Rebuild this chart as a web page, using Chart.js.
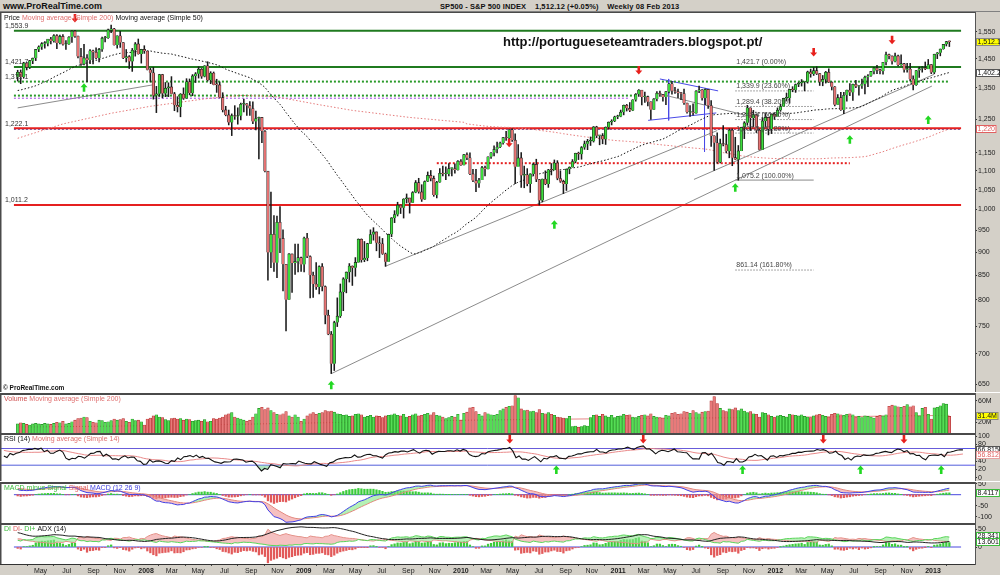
<!DOCTYPE html>
<html>
<head>
<meta charset="utf-8">
<script src="https://cdn.jsdelivr.net/npm/chart.js@4.4.0/dist/chart.umd.min.js"></script>
<style>
  body { margin: 0; width: 1000px; height: 575px; overflow: hidden; background: #fff; position: relative; }
  .pane { position: absolute; left: 0; width: 1000px; }
  #titlebar { position: absolute; left: 0; top: 0; width: 1000px; height: 12px; background: #d4d0c8;
    border-bottom: 1px solid #808080; box-sizing: border-box; font: bold 8px "Liberation Sans", Arial, sans-serif; color: #111; }
  #titlebar .site { position: absolute; left: 3px; top: 1px; font-size: 9px; }
  #titlebar .name { position: absolute; left: 440px; top: 2px; font-size: 7.5px; letter-spacing: 0.1px; }
</style>
</head>
<body>
<div id="titlebar"><span class="site">www.ProRealTime.com</span><span class="name">SP500 - S&amp;P 500 INDEX &nbsp;&nbsp; 1,512.12 (+0.05%) &nbsp;&nbsp; Weekly 08 Feb 2013</span></div>
<div class="pane" style="top:12px;height:380px"><canvas id="cPrice"></canvas></div>
<div class="pane" style="top:393px;height:40px"><canvas id="cVol"></canvas></div>
<div class="pane" style="top:433px;height:48px"><canvas id="cRsi"></canvas></div>
<div class="pane" style="top:482px;height:41px"><canvas id="cMacd"></canvas></div>
<div class="pane" style="top:523px;height:52px"><canvas id="cAdx"></canvas></div>
<script>
// weekly bars, first bar = week ending 9 Mar 2007, last = 8 Feb 2013
var firstDay = -298;          // days from 1 Jan 2008
var openBefore = 1387.2;      // close of the week before the first bar

var closes = [
1402.8,1386.9,1436.1,1420.9,1443.8,1452.9,1484.4,1494.1,1505.6,1505.9,
1522.8,1515.7,1536.3,1507.7,1532.9,1502.6,1503.4,1530.4,1552.5,1534.1,
1458.9,1433.1,1453.6,1445.9,1479.4,1473.9,1453.6,1484.3,1525.8,1527.0,
1557.6,1561.8,1500.6,1535.3,1509.7,1453.7,1458.7,1440.7,1481.1,1504.7,
1467.9,1484.5,1478.5,1411.6,1401.0,1325.2,1330.6,1395.4,1331.3,1349.0,
1353.1,1330.6,1293.4,1288.1,1329.5,1315.2,1370.4,1332.8,1390.3,1397.8,
1413.9,1388.3,1425.4,1375.9,1400.4,1360.7,1360.0,1317.9,1278.4,1262.9,
1239.5,1260.7,1257.8,1260.3,1296.3,1298.2,1292.2,1282.8,1242.3,1251.7,
1255.1,1213.3,1099.2,899.2,940.6,876.8,968.8,931.0,873.3,800.0,
896.2,876.1,879.7,887.9,872.8,931.8,890.4,850.1,831.9,825.9,
868.6,826.8,770.1,735.1,683.4,756.6,768.5,815.9,842.5,856.6,
869.6,866.2,877.5,929.2,882.9,887.0,919.1,940.1,946.2,921.2,
918.9,896.4,879.1,940.4,979.3,987.5,1010.5,1004.1,1026.1,1028.9,
1016.4,1042.7,1068.3,1044.4,1025.2,1071.5,1087.7,1079.6,1036.2,1069.3,
1093.5,1091.4,1091.5,1106.0,1106.4,1102.5,1126.5,1115.1,1145.0,1136.0,
1091.8,1073.9,1066.2,1075.5,1109.2,1104.5,1138.7,1150.0,1159.9,1166.6,
1178.1,1194.4,1192.1,1217.3,1186.7,1110.9,1135.7,1087.7,1089.4,1064.9,
1091.6,1117.5,1076.8,1022.6,1078.0,1064.9,1102.7,1101.6,1121.6,1079.3,
1071.7,1064.6,1104.5,1109.6,1125.6,1148.7,1146.2,1165.2,1176.2,1183.1,
1183.3,1225.9,1199.2,1199.7,1189.4,1224.7,1240.4,1243.9,1256.8,1257.6,
1271.5,1293.2,1283.4,1276.3,1310.9,1329.2,1343.0,1319.9,1321.2,1304.3,
1279.2,1313.8,1332.4,1328.2,1319.7,1337.4,1363.6,1340.2,1337.8,1333.3,
1331.1,1300.2,1271.0,1271.5,1268.5,1339.7,1343.8,1316.1,1345.0,1292.3,
1199.4,1178.8,1123.5,1176.8,1174.0,1154.2,1216.0,1136.4,1131.4,1155.5,
1224.6,1238.3,1285.1,1253.2,1263.9,1215.7,1158.7,1244.3,1255.2,1219.7,
1265.3,1257.6,1277.8,1289.1,1315.4,1316.3,1344.9,1342.6,1361.2,1365.7,
1369.6,1370.9,1404.2,1397.1,1408.5,1398.1,1370.3,1378.5,1403.4,1369.1,
1353.4,1295.2,1317.8,1278.0,1325.7,1342.8,1335.0,1362.2,1354.7,1356.8,
1362.7,1386.0,1391.0,1405.9,1418.2,1411.1,1406.6,1437.9,1465.8,1460.2,
1440.7,1460.9,1428.6,1433.2,1411.9,1414.2,1379.9,1359.9,1409.2,1416.2,
1418.1,1413.6,1430.2,1402.4,1466.5,1472.1,1486.0,1503.0,1513.2,1512.12
];

var highs = [
1410,1411,1438,1437,1445,1453,1484,1498,1510,1513,
1522,1529,1540,1540,1538,1540,1517,1532,1555,1556,
1534,1488,1503,1466,1484,1482,1490,1488,1530,1533,
1561,1576,1564,1535,1552,1510,1484,1462,1488,1510,
1523,1485,1498,1478,1417,1420,1355,1396,1396,1368,
1367,1388,1335,1321,1331,1350,1381,1380,1395,1402,
1422,1416,1426,1440,1405,1404,1379,1370,1334,1290,
1278,1266,1292,1285,1300,1313,1299,1305,1304,1275,
1256,1255,1215,1097,1044,985,984,1007,951,873,
897,896,918,918,889,934,943,892,857,877,
870,875,828,780,740,759,804,832,845,857,
875,870,888,930,930,924,920,951,956,946,
935,931,898,941,980,997,1018,1011,1027,1039,
1028,1045,1074,1080,1063,1073,1097,1101,1086,1072,
1106,1113,1111,1120,1107,1119,1128,1131,1146,1150,
1150,1104,1104,1080,1112,1113,1139,1151,1170,1181,
1181,1195,1213,1218,1220,1205,1174,1151,1113,1106,
1092,1121,1132,1077,1078,1100,1104,1120,1130,1128,
1100,1075,1105,1111,1131,1149,1152,1168,1184,1189,
1196,1227,1228,1200,1206,1226,1241,1248,1259,1262,
1278,1294,1296,1302,1311,1331,1344,1341,1336,1323,
1304,1315,1338,1339,1329,1338,1364,1371,1352,1346,
1334,1346,1300,1292,1298,1341,1356,1344,1347,1345,
1308,1199,1208,1190,1230,1204,1220,1220,1195,1171,
1225,1242,1293,1285,1277,1266,1219,1255,1267,1255,
1266,1270,1285,1297,1316,1333,1345,1354,1363,1368,
1378,1372,1407,1414,1419,1422,1398,1392,1406,1415,
1370,1354,1328,1335,1335,1343,1364,1363,1375,1357,
1380,1390,1395,1406,1419,1427,1414,1438,1475,1467,
1461,1471,1464,1465,1434,1434,1434,1391,1409,1421,
1423,1439,1448,1430,1467,1473,1486,1503,1514,1515
];

var lows = [
1373,1364,1383,1411,1416,1433,1444,1476,1484,1489,
1497,1505,1511,1487,1505,1500,1484,1503,1510,1529,
1454,1427,1429,1371,1433,1432,1450,1439,1477,1512,
1525,1547,1500,1489,1492,1451,1439,1416,1406,1460,
1467,1435,1470,1411,1370,1313,1270,1322,1317,1321,
1321,1330,1276,1272,1257,1312,1315,1327,1324,1368,
1383,1382,1387,1373,1364,1360,1335,1317,1272,1260,
1232,1200,1249,1234,1247,1272,1261,1261,1236,1217,
1133,1179,1097,840,866,858,845,899,818,741,
801,815,852,857,858,857,888,804,805,821,
812,818,754,734,667,672,749,766,779,814,
836,829,848,878,878,879,881,919,927,903,
888,895,869,880,935,968,984,990,979,1016,
991,1017,1042,1041,1020,1025,1071,1073,1033,1029,
1069,1086,1076,1086,1086,1094,1102,1115,1116,1131,
1090,1071,1045,1056,1076,1086,1105,1134,1141,1150,
1165,1175,1186,1180,1183,1066,1126,1056,1055,1060,
1043,1087,1071,1011,1019,1063,1056,1089,1104,1076,
1069,1040,1048,1092,1110,1122,1131,1132,1160,1159,
1171,1181,1194,1173,1176,1174,1219,1232,1242,1251,
1257,1263,1275,1273,1276,1306,1322,1294,1302,1291,
1249,1279,1307,1322,1306,1295,1333,1329,1332,1318,
1311,1296,1268,1258,1262,1268,1334,1310,1295,1283,
1168,1101,1121,1122,1170,1150,1136,1114,1131,1075,
1156,1191,1231,1215,1226,1209,1158,1159,1226,1202,
1206,1249,1259,1274,1290,1307,1300,1337,1335,1354,
1356,1340,1366,1386,1392,1395,1358,1357,1366,1368,
1343,1291,1296,1277,1267,1306,1324,1309,1351,1326,
1348,1330,1354,1389,1397,1398,1397,1396,1429,1450,
1431,1439,1425,1427,1403,1403,1373,1343,1358,1385,
1403,1412,1416,1398,1398,1451,1461,1485,1497,1495
];

// weekly volume, millions
var volumes = [
17,19,18,16,15,17,18,17,16,18, 17,16,18,20,19,22,17,18,21,24,
27,28,30,29,22,20,19,24,23,20, 21,23,26,24,25,27,22,20,26,23,
24,21,15,26,28,32,34,30,29,25, 23,27,28,26,27,24,26,25,22,23,
24,22,25,21,22,27,26,28,30,34, 36,38,30,28,26,24,22,24,30,36,
46,48,44,47,42,38,35,34,36,40, 32,30,34,30,22,26,32,36,38,35,
37,38,42,40,41,39,36,35,33,34, 31,32,35,36,34,30,31,33,30,32,
31,29,32,33,34,36,33,32,35,30, 31,34,36,32,33,35,37,34,38,33,
32,30,27,29,31,30,35,24,37,39, 47,48,40,35,32,38,36,34,33,35,
42,45,48,50,51,70,66,45,42,43, 40,41,38,44,37,36,38,35,33,30,
29,28,27,31,12,13,11,12,14,13, 29,33,34,31,35,32,30,33,29,31,
32,35,33,34,30,29,31,33,34,32, 36,31,30,29,28,33,32,37,38,35,
36,40,39,37,42,38,36,39,40,41, 60,68,55,46,42,40,45,44,47,42,
45,41,38,40,36,35,30,38,37,34, 31,29,32,33,31,30,35,34,33,32,
34,31,30,29,32,34,35,33,31,30, 35,37,36,34,33,35,36,34,30,31,
29,32,31,30,28,31,33,32,34,50, 52,51,49,48,50,53,49,51,38,32,
46,48,35,26,47,48,51,55,54,31
];

// weekly bars before the first one (Mar 2006 - Mar 2007), only used to warm up the indicators
var preCloses = [
1307,1302,1295,1295,1289,1311,1310,1326,1291,1267,1280,1288,1253,1251,1245,1270,1265,1236,1240,1278,
1280,1267,1302,1295,1311,1299,1320,1314,1336,1350,1366,1368,1377,1364,1380,1401,1401,1397,1409,1427,
1410,1418,1409,1430,1430,1423,1449,1438,1456,1451,1387
];
var preHighs = [
1310,1311,1310,1310,1300,1318,1317,1327,1326,1294,1285,1292,1290,1259,1258,1272,1280,1272,1246,1280,
1291,1290,1302,1305,1312,1311,1322,1329,1340,1350,1366,1372,1390,1382,1384,1403,1407,1407,1415,1427,
1432,1421,1430,1432,1435,1441,1449,1452,1459,1462,1459
];
var preLows = [
1280,1298,1291,1288,1281,1284,1300,1305,1290,1259,1258,1265,1252,1220,1238,1239,1262,1234,1225,1238,
1266,1262,1266,1290,1289,1295,1297,1310,1313,1330,1344,1362,1365,1361,1360,1378,1396,1385,1394,1405,
1408,1406,1403,1403,1424,1420,1419,1434,1437,1449,1374
];

var sma200EarlyIdx = [0, 15, 31, 44, 63, 74, 85, 100, 111, 130, 148];
var sma200EarlyVal = [1192, 1235, 1268, 1290, 1315, 1325, 1322, 1295, 1277, 1255, 1240];
var volMaIdx = [0, 50, 100, 150, 200, 250, 309];
var volMaVal = [11, 14, 19, 24, 27, 29, 33];

var priceTicks = [1550, 1450, 1350, 1250, 1150, 1100, 1050, 1000, 950, 900, 850, 800, 750, 700, 650];
var volTicks = [60, 20];
var rsiTicks = [100, 80, 40, 20, 0];
var macdTicks = [50, -50, -100];
var adxTicks = [50, 0];

// drawn levels
var greenLevels = [1553.9, 1421.7];
var greenDotLevels = [1371.1, 1324.5];
var greenDotEnd = [309, 205];
var purpleDotLevel = 1316;
var purpleDotEnd = 203;
var redLevels = [1222.1, 1011.2];
var navyDotLevel = 1219;
var redDotLevel = 1121;
var redDotSpan = [139, 276];
var levelLabels = ['1,553.9', '1,421.7', '1,371.1', '1,222.1', '1,011.2'];
var levelLabelVals = [1553.9, 1421.7, 1371.1, 1222.1, 1011.2];

var fibLevels = [1421.7, 1339.9, 1289.4, 1248.4, 1207.5, 1075.2, 861.14];
var fibText = ['1,421.7 (0.00%)', '1,339.9 (23.60%)', '1,289.4 (38.20%)', '1,248.4 (50.00%)', '1,207.5 (61.80%)', '1,075.2 (100.00%)', '861.14 (161.80%)'];
var fibSpan = [238, 264];

// trend lines: [week, price, week, price]
var trendLines = [
  [0, 1285, 44.8, 1360],
  [104, 666.8, 303.2, 1356],
  [122, 869.3, 232, 1215],
  [224.3, 1077, 304, 1396],
  [213, 1330, 242.6, 1259]
];
var blueLines = [
  [213, 1380, 232.3, 1340],
  [209.1, 1246, 231.7, 1269],
  [215.9, 1380, 215.9, 1246],
  [227.8, 1344, 227.8, 1153]
];

var downArrowIdx = [19, 163, 206, 264, 290];
var downArrowAt = [1604, 1179, 1411, 1475, 1520];
var upArrowIdx = [22, 104, 178, 238, 276, 302];
var upArrowAt = [1350, 648, 963, 1055, 1188, 1247];
var rsiDownIdx = [163, 206, 264, 290];
var rsiUpIdx = [178, 238, 276, 302];

var FONT = '"Liberation Sans", Arial, sans-serif';
var xMin = -306.7, xMax = 1892.2;
var N = closes.length;

function dayOf(i) { return firstDay + 7 * i; }
var opens = closes.map(function (c, i) { return i === 0 ? openBefore : closes[i - 1]; });

// ---------- indicators ----------
var allC = preCloses.concat(closes);
var allH = preHighs.concat(highs);
var allL = preLows.concat(lows);
var P = preCloses.length;

function ema(arr, n) {
  var k = 2 / (n + 1), out = [], e = arr[0];
  for (var i = 0; i < arr.length; i++) { e = i === 0 ? arr[0] : arr[i] * k + e * (1 - k); out.push(e); }
  return out;
}
function sma(arr, n) {
  var out = [];
  for (var i = 0; i < arr.length; i++) {
    var a = Math.max(0, i - n + 1), s = 0;
    for (var j = a; j <= i; j++) s += arr[j];
    out.push(s / (i - a + 1));
  }
  return out;
}
function rsiCalc(c, n) {
  var out = [50], g = 0, l = 0;
  for (var i = 1; i < c.length; i++) {
    var d = c[i] - c[i - 1], up = Math.max(d, 0), dn = Math.max(-d, 0);
    if (i <= n) { g += up / n; l += dn / n; }
    else { g = (g * (n - 1) + up) / n; l = (l * (n - 1) + dn) / n; }
    out.push(l === 0 ? 100 : 100 - 100 / (1 + g / l));
  }
  return out;
}

var sma50 = sma(allC, 50).slice(P);
var sma200Full = sma(allC, 200).slice(P);
var sma200Pts = sma200EarlyIdx.map(function (k, j) { return { x: dayOf(k), y: sma200EarlyVal[j] }; });
for (var k = 0; k < N; k++) if (k + P >= 199 && k > sma200EarlyIdx[sma200EarlyIdx.length - 1]) sma200Pts.push({ x: dayOf(k), y: sma200Full[k] });
var rsiAll = rsiCalc(allC, 14);
var rsi = rsiAll.slice(P);
var rsiMa = sma(rsiAll, 14).slice(P);
var e12 = ema(allC, 12), e26 = ema(allC, 26);
var macdAll = e12.map(function (v, i) { return v - e26[i]; });
var sigAll = ema(macdAll, 9);
var macd = macdAll.slice(P), sig = sigAll.slice(P);
var hist = macd.map(function (v, i) { return v - sig[i]; });

// DI+/DI-/ADX (14), Wilder smoothing
var pdi = [], mdi = [], adx = [];
(function () {
  var n = 14, str = 0, sp = 0, sm = 0, ax = 0, dxs = [];
  for (var i = 1; i < allC.length; i++) {
    var pc = allC[i - 1];
    var tr = Math.max(allH[i] - allL[i], Math.abs(allH[i] - pc), Math.abs(allL[i] - pc));
    var up = allH[i] - allH[i - 1], dn = allL[i - 1] - allL[i];
    var p = (up > dn && up > 0) ? up : 0, m = (dn > up && dn > 0) ? dn : 0;
    if (i <= n) { str += tr; sp += p; sm += m; }
    else { str = str - str / n + tr; sp = sp - sp / n + p; sm = sm - sm / n + m; }
    var a = 100 * sp / str, b = 100 * sm / str;
    var dx = (a + b) === 0 ? 0 : 100 * Math.abs(a - b) / (a + b);
    dxs.push(dx);
    if (dxs.length <= n) ax = dxs.reduce(function (s, v) { return s + v; }, 0) / dxs.length;
    else ax = (ax * (n - 1) + dx) / n;
    if (i >= P) { pdi.push(a); mdi.push(b); adx.push(ax); }
  }
})();

// ---------- helpers ----------
function pts(vals) { return vals.map(function (v, i) { return { x: dayOf(i), y: v }; }); }
function seg(d0, v0, d1, v1) { return [{ x: d0, y: v0 }, { x: d1, y: v1 }]; }
function lineDs(data, color, width, dash, order) {
  return { type: 'line', data: data, borderColor: color, borderWidth: width, borderDash: dash || [],
    pointRadius: 0, fill: false, tension: 0, order: order || 5 };
}
function fmtNum(v) { return v.toLocaleString('en-US'); }

function yAxis(type, min, max, ticks, fmt) {
  return {
    type: type, position: 'right', min: min, max: max,
    afterBuildTicks: function (s) { s.ticks = ticks.map(function (v) { return { value: v }; }); },
    afterFit: function (s) { s.width = 25; s.paddingTop = 0; s.paddingBottom = 0; },
    grid: { drawOnChartArea: false, drawTicks: true, tickLength: 2, color: '#333' },
    border: { display: true, color: '#555', width: 1 },
    ticks: { autoSkip: false, padding: 1, color: '#222', font: { size: 7, family: FONT }, callback: fmt || fmtNum }
  };
}
function xAxis(show) {
  var t = [];
  var names = ['Jan', 'Feb', 'Mar', 'Apr', 'May', 'Jun', 'Jul', 'Aug', 'Sep', 'Oct', 'Nov', 'Dec'];
  for (var y = 2007; y <= 2013; y++) for (var m = 0; m < 12; m += 2) {
    var d = (Date.UTC(y, m, 1) - Date.UTC(2008, 0, 1)) / 864e5;
    if (d > xMin + 10 && d < xMax - 30) t.push({ value: d, label: m === 0 ? String(y) : names[m], year: m === 0 });
  }
  return {
    type: 'linear', min: xMin, max: xMax, display: show, position: 'bottom',
    afterBuildTicks: function (s) { s.ticks = t.map(function (k) { return { value: k.value }; }); },
    afterFit: function (s) { s.height = show ? 11 : 0; s.paddingLeft = 0; s.paddingRight = 0; },
    grid: { drawOnChartArea: false, tickLength: 2, color: '#444' },
    border: { display: true, color: '#333' },
    ticks: {
      autoSkip: false, maxRotation: 0, padding: 1, color: '#222',
      font: function (ctx) { return { size: 7, family: FONT, weight: (t[ctx.index] && t[ctx.index].year) ? 'bold' : 'normal' }; },
      callback: function (v, i) { return t[i] ? t[i].label : ''; }
    }
  };
}

function paneFrame(topLine) {
  return {
    id: 'frame',
    beforeDraw: function (chart) {
      var c = chart.ctx, a = chart.chartArea;
      c.save();
      c.fillStyle = '#fff'; c.fillRect(0, 0, chart.width, chart.height);
      c.fillStyle = '#d4d0c8';
      c.fillRect(a.right, 0, chart.width - a.right, chart.height);
      if (a.bottom < chart.height) c.fillRect(0, a.bottom, chart.width, chart.height - a.bottom);
      c.restore();
    },
    afterDraw: function (chart) {
      var c = chart.ctx, a = chart.chartArea;
      c.save();
      c.fillStyle = '#4a4a4a';
      c.fillRect(0, 0, a.right, topLine);
      c.fillRect(0, 0, 1.5, a.bottom);
      c.restore();
    }
  };
}
function textRuns(chart, runs, x, y) {
  var c = chart.ctx;
  c.save();
  c.font = '7px ' + FONT; c.textBaseline = 'top';
  runs.forEach(function (r) { c.fillStyle = r[1]; c.fillText(r[0], x, y); x += c.measureText(r[0]).width + 2; });
  c.restore();
}
function axisBox(chart, scale, value, text, fill, stroke, color) {
  var c = chart.ctx, a = chart.chartArea, y = Math.round(scale.getPixelForValue(value));
  c.save();
  c.font = '7px ' + FONT;
  var w = Math.min(24, c.measureText(text).width + 3);
  c.fillStyle = fill; c.fillRect(a.right + 1, y - 4, w, 8);
  c.strokeStyle = stroke; c.lineWidth = 1; c.strokeRect(a.right + 1.5, y - 3.5, w - 1, 7);
  c.fillStyle = color; c.textBaseline = 'middle'; c.fillText(text, a.right + 2.5, y + 0.5);
  c.restore();
}
function arrow(c, x, y, up, color) {
  c.save();
  c.fillStyle = color;
  c.beginPath();
  if (up) {
    c.moveTo(x, y - 4.5); c.lineTo(x + 3.5, y - 0.5); c.lineTo(x + 1.3, y - 0.5); c.lineTo(x + 1.3, y + 4);
    c.lineTo(x - 1.3, y + 4); c.lineTo(x - 1.3, y - 0.5); c.lineTo(x - 3.5, y - 0.5);
  } else {
    c.moveTo(x, y + 4.5); c.lineTo(x + 3.5, y + 0.5); c.lineTo(x + 1.3, y + 0.5); c.lineTo(x + 1.3, y - 4);
    c.lineTo(x - 1.3, y - 4); c.lineTo(x - 1.3, y + 0.5); c.lineTo(x - 3.5, y + 0.5);
  }
  c.closePath(); c.fill();
  c.restore();
}

var base = {
  responsive: true, maintainAspectRatio: false, animation: false, events: [],
  layout: { padding: 0 },
  plugins: { legend: { display: false }, tooltip: { enabled: false } }
};
function opts(scales) { return Object.assign({}, base, { scales: scales }); }

var UP = '#3ddc3d', DOWN = '#e67373';

// ---------- price ----------
var bodyData = closes.map(function (c, i) { return { x: dayOf(i), y: [opens[i], c] }; });
var wickData = closes.map(function (c, i) { return { x: dayOf(i), y: [lows[i], highs[i]] }; });
var isUp = closes.map(function (c, i) { return c >= opens[i]; });

var priceSets = [
  { type: 'bar', data: bodyData, grouped: false, barThickness: 2.6, minBarLength: 1, order: 0,
    backgroundColor: isUp.map(function (u) { return u ? UP : DOWN; }), borderColor: '#1a1a1a', borderWidth: 0.6 },
  { type: 'bar', data: wickData, grouped: false, barThickness: 0.9, order: 1, backgroundColor: '#1a1a1a', borderWidth: 0 },
  lineDs(pts(sma50), '#111', 1, [1.5, 2], 3),
  lineDs(sma200Pts, '#e67c7c', 1, [1.5, 2], 3)
];
greenLevels.forEach(function (v) { priceSets.push(lineDs(seg(xMin, v, xMax, v), '#1f7a1f', 2, [], 4)); });
greenDotLevels.forEach(function (v, j) { priceSets.push(lineDs(seg(xMin, v, dayOf(greenDotEnd[j]), v), '#2a9a2a', 2, [2, 2], 4)); });
priceSets.push(lineDs(seg(xMin, purpleDotLevel, dayOf(purpleDotEnd), purpleDotLevel), '#a040e0', 1, [2, 2], 4));
redLevels.forEach(function (v) { priceSets.push(lineDs(seg(xMin, v, xMax, v), '#e52020', 2, [], 4)); });
priceSets.push(lineDs(seg(xMin, navyDotLevel, xMax, navyDotLevel), '#3030a0', 1, [2, 2], 4));
priceSets.push(lineDs(seg(dayOf(redDotSpan[0]), redDotLevel, dayOf(redDotSpan[1]), redDotLevel), '#e52020', 2, [2, 2], 4));
fibLevels.forEach(function (v, j) {
  priceSets.push(lineDs(seg(dayOf(fibSpan[0]), v, dayOf(fibSpan[1]), v), '#8a8a8a', 1, j === 5 ? [] : [1.5, 1.5], 6));
});
trendLines.forEach(function (t) { priceSets.push(lineDs(seg(dayOf(t[0]), t[1], dayOf(t[2]), t[3]), '#8c8c8c', 1, [], 6)); });
blueLines.forEach(function (t) { priceSets.push(lineDs(seg(dayOf(t[0]), t[1], dayOf(t[2]), t[3]), '#4a4ae8', 1, [], 6)); });

var priceDecor = {
  id: 'priceDecor',
  afterDatasetsDraw: function (chart) {
    var c = chart.ctx, xs = chart.scales.x, ys = chart.scales.y;
    c.save();
    c.font = '7px ' + FONT; c.fillStyle = '#333'; c.textBaseline = 'bottom';
    levelLabels.forEach(function (t, j) { c.fillText(t, 5, ys.getPixelForValue(levelLabelVals[j]) - 1); });
    c.fillStyle = '#444';
    fibText.forEach(function (t, j) { c.fillText(t, xs.getPixelForValue(dayOf(fibSpan[0])) + 1, ys.getPixelForValue(fibLevels[j]) - 1); });
    c.restore();
    downArrowIdx.forEach(function (k, j) { arrow(c, xs.getPixelForValue(dayOf(k)), ys.getPixelForValue(downArrowAt[j]), false, '#e8201c'); });
    upArrowIdx.forEach(function (k, j) { arrow(c, xs.getPixelForValue(dayOf(k)), ys.getPixelForValue(upArrowAt[j]), true, '#22d822'); });
  },
  afterDraw: function (chart) {
    var c = chart.ctx, ys = chart.scales.y;
    textRuns(chart, [['Price', '#111'], ['Moving average (Simple 200)', '#e07070'], ['Moving average (Simple 50)', '#111']], 4, 3);
    c.save();
    c.font = 'bold 13px ' + FONT; c.fillStyle = '#111'; c.textBaseline = 'middle';
    c.fillText('http://portugueseteamtraders.blogspot.pt/', 503, 30);
    c.font = 'bold 6.5px ' + FONT; c.textBaseline = 'bottom';
    c.fillText('\u00a9 ProRealTime.com', 3, chart.chartArea.bottom - 1);
    c.restore();
    axisBox(chart, ys, closes[N - 1], '1,512.12', '#ffff00', '#888', '#111');
    axisBox(chart, ys, sma50[N - 1], '1,402.2', '#fff', '#555', '#111');
    axisBox(chart, ys, sma200Full[N - 1], '1,220', '#fff', '#e06060', '#e06060');
  }
};

new Chart(document.getElementById('cPrice'), {
  type: 'bar',
  data: { datasets: priceSets },
  options: opts({ x: xAxis(false), y: yAxis('logarithmic', 637.3, 1628, priceTicks) }),
  plugins: [paneFrame(1), priceDecor]
});

// ---------- volume ----------
new Chart(document.getElementById('cVol'), {
  type: 'bar',
  data: { datasets: [
    { type: 'bar', data: pts(volumes), grouped: false, barThickness: 2.6, order: 1, borderWidth: 0.6,
      backgroundColor: isUp.map(function (u) { return u ? '#55dd55' : '#e87a7a'; }),
      borderColor: isUp.map(function (u) { return u ? '#1c8c1c' : '#b02a2a'; }) },
    lineDs(volMaIdx.map(function (k, j) { return { x: dayOf(k), y: volMaVal[j] }; }), '#e88a8a', 1, [], 0)
  ] },
  options: opts({ x: xAxis(false), y: yAxis('linear', 0, 74.8, volTicks, function (v) { return v + 'M'; }) }),
  plugins: [paneFrame(2), {
    id: 'volDecor',
    afterDraw: function (chart) {
      textRuns(chart, [['Volume', '#d05050'], ['Moving average (Simple 200)', '#e07070']], 4, 3);
      axisBox(chart, chart.scales.y, volumes[N - 1] + 0.4, '31.4M', '#ffff00', '#888', '#111');
    }
  }]
});

// ---------- RSI ----------
new Chart(document.getElementById('cRsi'), {
  type: 'line',
  data: { datasets: [
    Object.assign(lineDs(pts(rsi), '#111', 1.1, [], 1), { fill: { target: { value: 30 }, above: 'rgba(0,0,0,0)', below: 'rgba(120,210,150,0.6)' } }),
    Object.assign(lineDs(pts(rsi), 'rgba(0,0,0,0)', 0, [], 2), { fill: { target: { value: 70 }, above: 'rgba(235,140,140,0.5)', below: 'rgba(0,0,0,0)' } }),
    lineDs(pts(rsiMa), '#ea8a8a', 1, [], 3),
    lineDs(seg(xMin, 70, xMax, 70), '#5656e6', 1, [], 4),
    lineDs(seg(xMin, 30, xMax, 30), '#5656e6', 1, [], 4)
  ] },
  options: opts({ x: xAxis(false), y: yAxis('linear', -7.9, 107.2, rsiTicks) }),
  plugins: [paneFrame(2), {
    id: 'rsiDecor',
    afterDraw: function (chart) {
      var xs = chart.scales.x, ys = chart.scales.y;
      textRuns(chart, [['RSI (14)', '#111'], ['Moving average (Simple 14)', '#e07070']], 4, 3);
      rsiDownIdx.forEach(function (k) { arrow(chart.ctx, xs.getPixelForValue(dayOf(k)), ys.getPixelForValue(92.8), false, '#e8201c'); });
      rsiUpIdx.forEach(function (k) { arrow(chart.ctx, xs.getPixelForValue(dayOf(k)), ys.getPixelForValue(18.5), true, '#22d822'); });
      axisBox(chart, ys, 66.815, '66.815', '#fff', '#555', '#111');
      axisBox(chart, ys, 53.5, '56.812', '#fff', '#e8a0a0', '#e06060');
    }
  }]
});

// ---------- MACD ----------
new Chart(document.getElementById('cMacd'), {
  type: 'bar',
  data: { datasets: [
    { type: 'bar', data: pts(hist), grouped: false, barThickness: 1.6, order: 3, borderWidth: 0,
      backgroundColor: hist.map(function (h) { return h >= 0 ? '#3ccc3c' : '#e25a5a'; }) },
    Object.assign(lineDs(pts(macd), '#4040e8', 1, [], 1), { fill: { target: 2, above: 'rgba(120,230,120,0.55)', below: 'rgba(240,150,150,0.6)' } }),
    lineDs(pts(sig), '#ee7a7a', 1, [], 2),
    lineDs(seg(xMin, 0, xMax, 0), '#4848e0', 1, [], 4)
  ] },
  options: opts({ x: xAxis(false), y: yAxis('linear', -128.6, 57.7, macdTicks) }),
  plugins: [paneFrame(2), {
    id: 'macdDecor',
    afterDraw: function (chart) {
      textRuns(chart, [['MACD minus Signal', '#3cbc3c'], ['Signal', '#e06060'], ['MACD (12 26 9)', '#4040e0']], 4, 3);
      axisBox(chart, chart.scales.y, 8.4117, '8.4117', '#fff', '#3cbc3c', '#111');
    }
  }]
});

// ---------- DI / ADX ----------
var diHist = pdi.map(function (v, i) { return v - mdi[i]; });
new Chart(document.getElementById('cAdx'), {
  type: 'bar',
  data: { datasets: [
    { type: 'bar', data: pts(diHist), grouped: false, barThickness: 1.6, order: 4, borderWidth: 0,
      backgroundColor: diHist.map(function (h) { return h >= 0 ? '#3ccc3c' : '#e25a5a'; }) },
    Object.assign(lineDs(pts(pdi), '#5ad65a', 1, [], 2), { fill: { target: 2, above: 'rgba(140,230,140,0.6)', below: 'rgba(240,160,160,0.65)' } }),
    lineDs(pts(mdi), '#ee8080', 1, [], 3),
    lineDs(pts(adx), '#222', 1, [], 1),
    lineDs(seg(xMin, 0, xMax, 0), '#4848e0', 1, [], 5)
  ] },
  options: opts({ x: xAxis(true), y: yAxis('linear', -48, 67.8, adxTicks) }),
  plugins: [paneFrame(2), {
    id: 'adxDecor',
    afterDraw: function (chart) {
      textRuns(chart, [['DI', '#3cbc3c'], ['DI-', '#e06060'], ['DI+', '#3cbc3c'], ['ADX (14)', '#111']], 4, 3);
      axisBox(chart, chart.scales.y, 30.5, '28.341', '#fff', '#3cbc3c', '#111');
      axisBox(chart, chart.scales.y, 13.601, '13.601', '#fff', '#3cbc3c', '#111');
    }
  }]
});
</script>
</body>
</html>
